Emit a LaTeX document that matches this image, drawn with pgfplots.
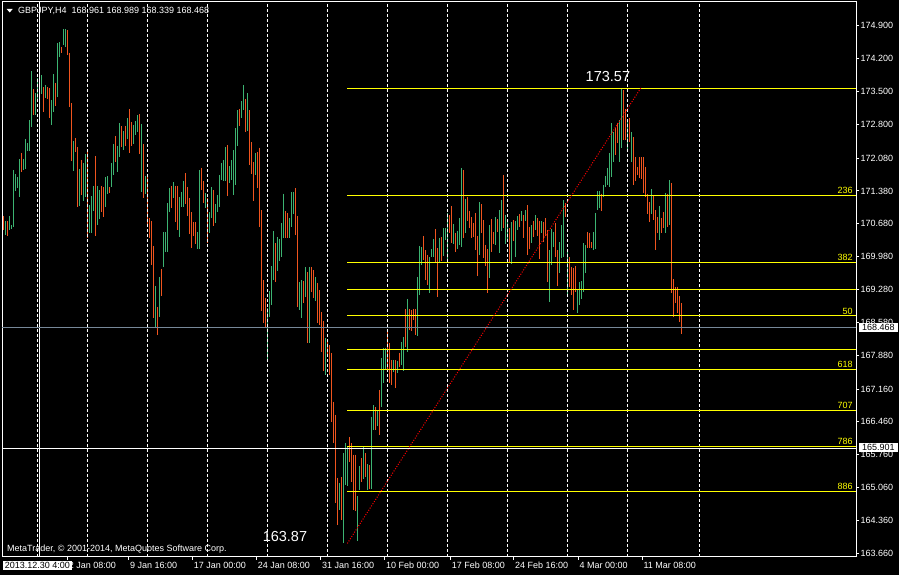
\documentclass[border=0pt]{standalone}
\usepackage{pgfplots}
\usepackage{pgfplotstable}
\pgfplotsset{compat=1.18}
\usepackage{fontspec}
\setmainfont{Liberation Sans}
\definecolor{upc}{RGB}{60,179,113}
\definecolor{dnc}{RGB}{240,84,30}
\definecolor{bidc}{RGB}{119,136,153}
\definecolor{fibc}{RGB}{255,255,0}
\newcommand{\tf}{\fontsize{9}{10}\selectfont}

\pgfplotstableread{
k lo hi
1 170.44 170.74
3 170.55 170.85
4 170.57 170.65
5 170.61 171.83
6 171.38 171.74
7 171.44 171.68
8 171.25 172.06
10 171.83 172.06
11 171.85 172.49
12 172.23 172.40
13 172.23 172.89
14 172.74 173.93
16 173.00 173.47
17 173.32 173.79
19 173.44 173.85
21 173.36 173.64
24 172.79 173.32
25 173.06 173.87
27 173.38 174.53
28 174.23 174.55
30 174.49 174.83
31 174.45 174.83
35 171.80 172.44
38 171.06 171.85
40 171.17 171.98
41 171.25 172.17
43 170.49 171.08
44 170.49 171.27
45 170.95 171.49
47 170.65 171.49
48 170.78 171.40
51 171.04 171.68
52 171.32 171.70
54 171.46 171.98
55 171.72 172.38
57 171.78 172.34
58 172.10 172.83
60 172.25 172.66
62 172.49 172.93
65 172.38 172.79
66 172.57 172.87
67 172.64 173.00
69 171.36 172.81
71 171.32 171.70
76 168.48 169.35
78 168.70 169.55
80 169.76 170.51
81 170.08 170.51
82 170.08 171.12
83 170.93 171.44
85 171.23 171.57
88 170.40 171.25
89 171.04 171.36
90 171.04 171.59
97 170.14 170.51
98 170.14 171.83
101 171.02 171.34
103 170.49 170.93
104 170.80 171.46
106 170.70 171.10
107 170.93 171.29
108 171.04 171.72
109 171.61 171.98
110 171.59 172.04
111 171.59 172.32
113 171.55 171.91
114 171.61 172.04
115 171.29 172.25
116 171.51 172.72
117 172.34 173.10
119 172.93 173.30
120 173.10 173.64
122 172.66 173.47
126 171.72 172.19
132 167.74 168.89
133 168.70 169.25
134 168.95 169.78
135 169.48 170.53
137 169.67 170.40
138 169.89 170.36
139 169.97 170.70
140 170.38 171.32
143 170.38 170.80
144 170.61 171.36
145 170.89 171.36
148 168.84 169.44
149 168.67 169.48
151 169.12 169.76
153 168.14 169.76
156 169.04 169.55
161 167.46 168.25
168 164.58 165.16
170 163.87 165.80
171 165.12 166.01
172 165.10 165.93
177 163.92 164.88
178 165.01 165.52
180 165.25 165.93
182 165.01 165.56
184 165.03 166.57
185 166.29 166.82
187 166.37 166.71
189 166.78 167.82
190 167.29 168.04
191 167.57 168.04
195 167.52 167.78
197 167.50 167.76
199 167.67 168.16
200 167.54 168.27
202 167.95 169.08
207 168.29 169.55
208 169.16 170.21
209 169.80 170.19
213 169.21 169.97
214 169.97 170.14
215 169.97 170.36
218 169.87 170.38
220 169.99 170.59
221 170.34 170.59
222 169.85 170.91
225 170.25 170.68
227 170.14 170.53
228 170.23 170.80
229 170.19 171.87
231 170.49 171.21
238 170.02 171.14
243 169.53 170.65
246 170.23 170.82
248 170.06 170.97
249 170.53 171.19
251 170.25 170.87
252 170.34 170.76
254 169.82 170.72
256 169.97 170.74
257 170.55 170.85
259 170.74 170.95
261 170.74 170.97
264 170.27 170.65
266 170.55 170.87
269 170.49 170.74
273 169.01 170.12
274 169.80 170.57
275 170.19 170.51
278 169.63 170.29
279 169.95 170.65
280 169.97 171.19
282 169.16 170.08
287 168.78 169.27
288 168.95 169.44
289 169.08 169.46
290 169.23 170.27
291 169.63 170.23
295 170.12 170.51
296 170.14 170.91
297 170.97 171.38
298 171.02 171.38
300 171.25 171.51
301 171.46 171.70
302 171.51 171.87
303 171.46 172.19
304 171.68 172.83
305 172.00 172.64
308 172.00 172.89
309 172.30 173.57
312 172.27 172.89
314 172.00 172.64
324 170.89 171.42
328 170.34 171.06
331 170.49 171.34
333 170.65 171.61
}\upbars

\pgfplotstableread{
k lo hi
0 170.55 170.85
2 170.42 170.74
9 171.78 172.19
15 173.00 173.55
18 173.40 173.74
20 173.06 173.59
22 173.34 173.59
23 172.93 173.57
26 173.19 173.68
29 174.32 174.45
32 174.28 174.81
33 173.17 174.32
34 172.02 173.25
36 172.21 172.51
37 171.04 172.32
39 171.29 172.04
42 170.38 172.21
46 170.42 172.12
49 170.93 171.49
50 170.82 171.46
53 171.34 171.46
56 172.00 172.55
59 172.32 172.76
61 172.34 172.76
63 172.19 173.13
64 172.34 172.85
68 172.17 173.02
70 171.23 172.38
72 170.65 171.68
73 170.38 170.80
74 169.80 170.74
75 168.67 170.21
77 168.31 168.91
79 169.14 169.72
84 171.02 171.49
86 170.72 171.49
87 170.55 171.49
91 171.10 171.76
92 170.85 171.46
93 170.46 171.23
94 170.16 170.93
95 170.42 170.72
96 170.25 170.72
99 171.40 171.87
100 171.12 171.59
102 170.27 171.23
105 170.63 171.40
112 171.27 172.36
118 172.76 173.13
121 172.64 173.34
123 171.93 173.10
124 171.74 172.42
125 171.17 172.00
127 171.44 172.21
128 170.61 172.30
129 168.82 170.97
130 168.57 169.48
131 168.48 169.10
136 169.44 170.27
141 170.38 170.95
142 170.38 170.91
146 170.44 171.44
147 168.91 170.85
150 168.99 169.46
152 168.14 169.65
154 169.23 169.76
155 169.10 169.70
157 168.57 169.42
158 168.52 169.27
159 167.95 168.80
160 167.54 168.61
162 167.86 168.23
163 167.46 168.10
164 166.46 167.93
165 166.01 166.89
166 164.73 166.61
167 164.27 165.27
169 164.37 165.29
173 165.61 166.14
174 165.18 166.01
175 164.58 165.76
176 164.56 165.76
179 165.18 165.69
181 165.29 165.80
183 165.03 165.54
186 166.29 166.78
188 166.18 167.14
192 167.57 168.42
193 167.29 168.14
194 167.25 167.78
196 167.18 167.78
198 167.63 167.93
201 168.06 168.87
203 168.42 168.87
204 168.40 168.84
205 168.63 168.87
206 168.31 168.87
210 169.91 170.42
211 169.48 170.12
212 169.38 170.02
216 169.87 170.57
217 169.12 170.16
219 169.89 170.40
223 170.49 170.87
224 170.27 171.06
226 170.08 170.49
230 170.38 171.83
232 170.74 171.25
233 170.59 170.95
234 170.38 170.82
235 170.40 170.70
236 170.12 170.91
237 169.57 170.42
239 170.49 171.10
240 169.95 170.76
241 169.78 170.23
242 169.21 170.14
244 170.08 170.78
245 170.25 170.51
247 170.51 170.78
250 170.59 171.72
253 169.87 170.59
255 170.31 170.76
258 170.61 170.89
260 170.38 170.87
262 170.02 171.08
263 170.14 170.61
265 170.40 170.74
267 170.42 170.80
268 169.93 170.74
270 170.29 170.72
271 170.42 170.80
272 169.44 170.55
276 169.97 170.70
277 169.35 170.12
281 170.82 171.12
283 169.33 169.97
284 169.16 169.76
285 168.84 169.74
286 169.23 169.78
292 170.16 170.51
293 170.16 170.49
294 170.16 170.29
299 170.95 171.32
306 172.15 172.72
307 172.40 172.83
310 172.47 173.53
311 172.47 173.13
313 172.42 172.93
315 171.51 172.53
316 171.59 172.10
317 171.72 171.89
318 171.66 172.10
319 171.63 172.10
320 171.34 172.10
321 171.25 171.89
322 170.89 171.32
323 170.72 171.14
325 170.76 171.29
326 170.12 170.97
327 170.49 170.82
329 170.49 170.80
330 170.59 170.93
332 170.61 171.32
334 169.21 171.55
335 168.70 169.50
336 168.99 169.33
337 168.78 169.33
338 168.59 169.14
339 168.34 168.99
}\dnbars

\begin{document}
\begin{tikzpicture}
\fill[black] (-2pt,-18.3pt) rectangle (897pt,556.7pt);
\begin{axis}[
  scale only axis, width=854.3pt, height=554.7pt,
  xmin=-0.67, xmax=426.5, ymin=163.588, ymax=175.405,
  axis line style={white, line width=1pt},
  xtick pos=left, xticklabel pos=left,
  ytick pos=right, yticklabel pos=right,
  tick align=outside, major tick length=3pt,
  tick style={white, line width=1pt},
  xtick={32.2,62.8,94.7,126.7,158.8,190.8,223.7,255.3,287.5,319.5},
  xticklabels={2 Jan 08:00,9 Jan 16:00,17 Jan 00:00,24 Jan 08:00,31 Jan 16:00,10 Feb 00:00,17 Feb 08:00,24 Feb 16:00,4 Mar 00:00,11 Mar 08:00},
  ytick={174.9,174.2,173.5,172.8,172.08,171.38,170.68,169.98,169.28,168.58,167.88,167.16,166.46,165.76,165.06,164.36,163.66},
  yticklabels={174.900,174.200,173.500,172.800,172.080,171.380,170.680,169.980,169.280,168.580,167.880,167.160,166.460,165.760,165.060,164.360,163.660},
  xticklabel style={white, font=\tf, anchor=north west, inner sep=0pt, xshift=1pt, yshift=-2pt},
  yticklabel style={white, font=\tf, anchor=west, inner sep=0pt, xshift=1pt},
]
\addplot[draw=none, forget plot, error bars/.cd, y dir=minus, y explicit, error mark=none,
  error bar style={draw=upc, line width=1pt, solid}]
  table[x=k, y=hi, y error minus expr=\thisrow{hi}-\thisrow{lo}] {\upbars};
\addplot[draw=none, forget plot, error bars/.cd, y dir=minus, y explicit, error mark=none,
  error bar style={draw=dnc, line width=1pt, solid}]
  table[x=k, y=hi, y error minus expr=\thisrow{hi}-\thisrow{lo}] {\dnbars};
% period separators
\pgfplotsinvokeforeach{17,42,72,102,132,162,192,222,252,282,312,348}{
  \addplot[white, line width=1pt, dash pattern=on 3pt off 2pt, forget plot] coordinates {(#1,163.588) (#1,175.405)};
}
\addplot[white, line width=1pt, forget plot] coordinates {(18,163.588) (18,175.405)};
% fibonacci levels
\pgfplotsinvokeforeach{173.57,171.281,169.865,169.27,168.72,168.01,167.575,166.712,165.946,164.976}{
  \addplot[fibc, line width=1pt, forget plot] coordinates {(172,#1) (426.5,#1)};
}
\addplot[red, line width=1pt, dash pattern=on 1pt off 1.6pt, forget plot] coordinates {(172,163.87) (318.7,173.57)};
% bid and horizontal line
\addplot[bidc, line width=1pt, forget plot] coordinates {(-0.67,168.468) (426.5,168.468)};
\addplot[white, line width=1pt, forget plot] coordinates {(-0.67,165.901) (426.5,165.901)};
% fib labels
\node[anchor=south east, inner sep=0pt, text=fibc, font=\tf, yshift=1.5pt] at (axis cs:424.8,171.281) {236};
\node[anchor=south east, inner sep=0pt, text=fibc, font=\tf, yshift=1.5pt] at (axis cs:424.8,169.865) {382};
\node[anchor=south east, inner sep=0pt, text=fibc, font=\tf, yshift=1.5pt] at (axis cs:424.8,168.72) {50};
\node[anchor=south east, inner sep=0pt, text=fibc, font=\tf, yshift=1.5pt] at (axis cs:424.8,167.575) {618};
\node[anchor=south east, inner sep=0pt, text=fibc, font=\tf, yshift=1.5pt] at (axis cs:424.8,166.712) {707};
\node[anchor=south east, inner sep=0pt, text=fibc, font=\tf, yshift=1.5pt] at (axis cs:424.8,165.946) {786};
\node[anchor=south east, inner sep=0pt, text=fibc, font=\tf, yshift=1.5pt] at (axis cs:424.8,164.976) {886};
\node[text=white, font=\fontsize{14.5}{16}\selectfont, inner sep=0pt] at (axis cs:140.8,164.01) {163.87};
\node[text=white, font=\fontsize{14.5}{16}\selectfont, inner sep=0pt] at (axis cs:302.3,173.81) {173.57};
\end{axis}
% title
\fill[white] (4.7pt,547.7pt) -- (10.7pt,547.7pt) -- (7.7pt,544.2pt) -- cycle;
\node[anchor=west, inner sep=0pt, text=white, font=\tf] at (16pt,545.7pt) {GBPJPY,H4\ \ 168.961 168.989 168.339 168.468};
\node[anchor=west, inner sep=0pt, text=white, font=\tf] at (5pt,7.7pt) {MetaTrader, © 2001-2014, MetaQuotes Software Corp.};
% boxed labels
\node[anchor=north west, fill=white, text=black, inner xsep=2pt, inner ysep=1.5pt, font=\tf] at (0.7pt,-3.8pt) {2013.12.30 4:00};
\node[anchor=west, fill=white, text=black, inner xsep=3pt, inner ysep=1.5pt, font=\tf] at (857pt,229pt) {168.468};
\node[anchor=west, fill=white, text=black, inner xsep=3pt, inner ysep=1.5pt, font=\tf] at (857pt,109.2pt) {165.901};
\pgfresetboundingbox
\path (-2pt,-18.3pt) rectangle (897pt,556.7pt);
\end{tikzpicture}
\end{document}
